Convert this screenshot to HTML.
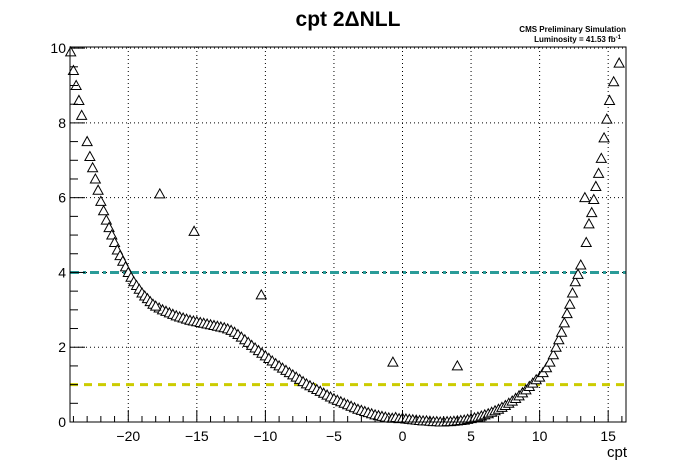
<!DOCTYPE html>
<html><head><meta charset="utf-8"><style>
body{margin:0;background:#fff;}
svg{display:block;font-family:"Liberation Sans",Arial,sans-serif;}
</style></head><body>
<svg id="chart" width="696" height="472" viewBox="0 0 696 472" xmlns="http://www.w3.org/2000/svg">
<rect x="0" y="0" width="696" height="472" fill="#fff"/>
<text x="348" y="26" text-anchor="middle" font-size="21" font-weight="bold">cpt 2ΔNLL</text>
<text x="626" y="32" text-anchor="end" font-size="8" font-weight="bold">CMS Preliminary Simulation</text>
<text x="621" y="42" text-anchor="end" font-size="8" font-weight="bold">Luminosity = 41.53 fb<tspan font-size="6" dy="-3">-1</tspan></text>
<g id="grid"></g>
<g id="lines"></g>
<g id="marks"></g>
<g id="axes"></g>
<text x="627" y="457" text-anchor="end" font-size="15">cpt</text>
</svg>
<script>
const xTicks=[-20,-15,-10,-5,0,5,10,15];
const yTicks=[0,2,4,6,8,10];
const thresholds=[1,4];
const denseX0=-17.75, denseStep=0.25;
const denseY=[3.05,3.0,2.96,2.92,2.88,2.84,2.81,2.78,2.75,2.72,2.7,2.68,2.66,2.64,2.62,2.6,2.58,2.56,2.54,2.52,2.49,2.45,2.4,2.34,2.27,2.2,2.13,2.05,1.98,1.91,1.84,1.77,1.7,1.63,1.56,1.5,1.44,1.38,1.32,1.26,1.2,1.14,1.08,1.02,0.97,0.92,0.87,0.82,0.77,0.72,0.67,0.62,0.58,0.54,0.5,0.46,0.42,0.38,0.34,0.31,0.28,0.25,0.22,0.19,0.17,0.15,0.13,0.11,0.1,0.12,0.09,0.1,0.08,0.07,0.06,0.05,0.04,0.03,0.03,0.02,0.01,0.01,0.0,0.0,0.01,0.01,0.02,0.03,0.04,0.05,0.07,0.09,0.11,0.13,0.16,0.19,0.22,0.26,0.3,0.34,0.39,0.44,0.5,0.56,0.63,0.7,0.78,0.86,0.95,1.04,1.13];
const sparseX=[-24.2,-24.0,-23.8,-23.6,-23.4,-23.0,-22.8,-22.6,-22.4,-22.2,-22.0,-21.8,-21.6,-21.4,-21.2,-21.0,-20.8,-20.6,-20.4,-20.2,-20.0,-19.8,-19.6,-19.4,-19.2,-19.0,-18.8,-18.6,-18.4,-18.2,-18.0,10,10.25,10.5,10.75,11,11.2,11.4,11.6,11.8,12,12.2,12.4,12.6,12.8,13.0,13.3,13.4,13.6,13.8,13.95,14.1,14.3,14.5,14.7,14.9,15.1,15.4,15.8,-17.7,-15.2,-10.3,-0.7,4.0];
const sparseY=[9.9,9.4,9.0,8.6,8.2,7.5,7.1,6.8,6.5,6.2,5.9,5.65,5.4,5.2,5.0,4.8,4.6,4.45,4.3,4.15,4.0,3.87,3.75,3.65,3.55,3.45,3.37,3.3,3.22,3.15,3.1,1.2,1.32,1.45,1.6,1.8,2.0,2.2,2.4,2.65,2.9,3.15,3.45,3.75,3.95,4.2,6.0,4.8,5.3,5.6,5.95,6.3,6.65,7.05,7.6,8.1,8.6,9.1,9.6,6.1,5.1,3.4,1.6,1.5];

const L=70,R=626,T=47,B=422;
const X0=-24.25,X1=16.3,Y0=0,Y1=10.03;
const sx=v=>L+(v-X0)/(X1-X0)*(R-L);
const sy=v=>B-(v-Y0)/(Y1-Y0)*(B-T);
const NS="http://www.w3.org/2000/svg";
function mk(tag,parent,attrs){const e=document.createElementNS(NS,tag);for(const k in attrs)e.setAttribute(k,attrs[k]);parent.appendChild(e);return e;}
const grid=document.getElementById('grid'),lines=document.getElementById('lines'),marks=document.getElementById('marks'),axes=document.getElementById('axes');
xTicks.forEach(t=>{const g=mk('line',grid,{x1:sx(t),x2:sx(t),y1:T,y2:B,stroke:'#000','stroke-width':1,'stroke-dasharray':'1,3'});

});
yTicks.forEach(t=>{const g=mk('line',grid,{x1:L,x2:R,y1:sy(t),y2:sy(t),stroke:'#000','stroke-width':1,'stroke-dasharray':'1,3'});

});
const teal=mk('line',lines,{x1:L,x2:R,y1:sy(thresholds[1]),y2:sy(thresholds[1]),stroke:'#2a9b98','stroke-width':3,'stroke-dasharray':'9,4,3,4'});


const yel=mk('line',lines,{x1:L,x2:R,y1:sy(thresholds[0]),y2:sy(thresholds[0]),stroke:'#cccc00','stroke-width':3,'stroke-dasharray':'8,6'});


function tri(x,y){const cx=sx(x),cy=sy(y);
const p=mk('polygon',marks,{points:`${cx-5},${cy+4} ${cx+5},${cy+4} ${cx},${cy-5}`,fill:'#fff',stroke:'#000','stroke-width':1});

}
denseY.forEach((y,i)=>tri(denseX0+i*denseStep,y));
sparseX.forEach((x,i)=>tri(x,sparseY[i]));
mk('rect',axes,{x:L,y:T,width:R-L,height:B-T,fill:'none',stroke:'#000','stroke-width':1});
for(let v=0;v<=10.001;v+=0.5){const maj=Math.abs(v/2-Math.round(v/2))<1e-6;mk('line',axes,{x1:L,x2:L+(maj?15:8),y1:sy(v),y2:sy(v),stroke:'#000'});}
for(let v=-24;v<=16;v+=1){const maj=v%5===0;mk('line',axes,{x1:sx(v),x2:sx(v),y1:B,y2:B-(maj?12:6),stroke:'#000'});}
yTicks.forEach(t=>{const e=mk('text',axes,{x:L-4,y:sy(t)+5,'text-anchor':'end','font-size':14});e.textContent=t;

});
xTicks.forEach(t=>{const e=mk('text',axes,{x:sx(t),y:441,'text-anchor':'middle','font-size':14});e.textContent=t<0?'\u2212'+(-t):t;

});
</script>
</body></html>
